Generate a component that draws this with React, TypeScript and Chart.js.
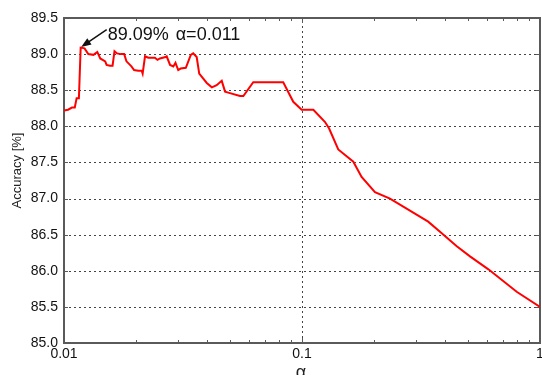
import React, { useEffect, useRef } from 'react';
import { Chart, registerables } from 'chart.js';

Chart.register(...registerables);

const alphas: number[] = [
  0.0100, 0.0104, 0.0108, 0.0111, 0.0113, 0.01155, 0.01175, 0.0122, 0.01265, 0.0133,
  0.0138, 0.0142, 0.0149, 0.0151, 0.0156, 0.0160, 0.0163, 0.0167, 0.0173, 0.0179,
  0.0183, 0.0192, 0.0197, 0.0205, 0.0212, 0.0214, 0.0219, 0.0226, 0.0241, 0.0247,
  0.0253, 0.0267, 0.0270, 0.0279, 0.0288, 0.0294, 0.0302, 0.0309, 0.0325, 0.0341,
  0.0349, 0.0361, 0.0370, 0.0398, 0.0418, 0.0438, 0.0460, 0.0475, 0.0498, 0.0549,
  0.0567, 0.0624, 0.0834, 0.0919, 0.0997, 0.1116, 0.125, 0.130, 0.142, 0.1643,
  0.178, 0.2026, 0.2343, 0.339, 0.380, 0.447, 0.508, 0.607, 0.798, 1.0,
];

const accuracy: number[] = [
  88.22, 88.23, 88.26, 88.26, 88.39, 88.39, 89.09, 89.08, 89.00, 88.99,
  89.03, 88.94, 88.90, 88.85, 88.84, 88.84, 89.04, 89.01, 89.00, 89.00,
  88.90, 88.83, 88.78, 88.77, 88.77, 88.73, 88.97, 88.95, 88.95, 88.92,
  88.94, 88.96, 88.97, 88.85, 88.83, 88.88, 88.78, 88.80, 88.81, 88.99,
  89.01, 88.96, 88.73, 88.60, 88.54, 88.57, 88.63, 88.48, 88.46, 88.42,
  88.42, 88.61, 88.61, 88.34, 88.23, 88.23, 88.06, 87.97, 87.68, 87.51,
  87.30, 87.09, 87.00, 86.68, 86.54, 86.34, 86.20, 86.02, 85.71, 85.50,
];

const xTickValues: number[] = [0.01, 0.1, 1];
const xMinorTicks: number[] = [
  0.02, 0.03, 0.04, 0.05, 0.06, 0.07, 0.08, 0.09,
  0.2, 0.3, 0.4, 0.5, 0.6, 0.7, 0.8, 0.9,
];
const yMin = 85.0;
const yMax = 89.5;
const yStep = 0.5;
const xTitle = 'α';
const yTitle = 'Accuracy [%]';
const peakText = '89.09%';
const peakAlphaText = 'α=0.011';

const FONT = '"Liberation Sans", Arial, Helvetica, sans-serif';

const framePlugin = {
  id: 'frameTicks',
  beforeDatasetsDraw(chart: any) {
    const { ctx, chartArea, scales } = chart;
    const { left, right, top, bottom } = chartArea;
    const x = scales.x;
    const y = scales.y;
    ctx.save();
    const seg = (x1: number, y1: number, x2: number, y2: number) => {
      ctx.beginPath();
      ctx.moveTo(x1, y1);
      ctx.lineTo(x2, y2);
      ctx.stroke();
    };
    // dotted grid
    ctx.strokeStyle = '#444';
    ctx.lineWidth = 1;
    ctx.setLineDash([2, 3]);
    for (const v of xTickValues) {
      const px = Math.round(x.getPixelForValue(v)) + 0.5;
      seg(px, bottom, px, top);
    }
    for (const t of y.ticks) {
      const py = Math.round(y.getPixelForValue(t.value)) + 0.5;
      seg(left, py, right, py);
    }
    ctx.setLineDash([]);
    ctx.strokeStyle = '#5a5a5a';
    for (const v of xMinorTicks) {
      const px = Math.round(x.getPixelForValue(v)) + 0.5;
      seg(px, bottom, px, bottom - 3);
      seg(px, top, px, top + 3);
    }
    for (const v of xTickValues) {
      const px = Math.round(x.getPixelForValue(v)) + 0.5;
      seg(px, bottom, px, bottom - 5);
      seg(px, top, px, top + 5);
    }
    for (const t of y.ticks) {
      const py = Math.round(y.getPixelForValue(t.value)) + 0.5;
      seg(left, py, left + 4, py);
      seg(right, py, right - 4, py);
    }
    ctx.lineWidth = 2;
    ctx.strokeStyle = '#5a5a5a';
    ctx.strokeRect(left, top, right - left, bottom - top);
    ctx.restore();
  },
  afterDraw(chart: any) {
    const { ctx, chartArea, scales } = chart;
    const x = scales.x;
    const y = scales.y;
    let pi = 0;
    accuracy.forEach((v, i) => {
      if (v > accuracy[pi]) pi = i;
    });
    const px = x.getPixelForValue(alphas[pi]);
    const py = y.getPixelForValue(accuracy[pi]);
    ctx.save();
    ctx.fillStyle = '#111';
    ctx.font = `18px ${FONT}`;
    ctx.textBaseline = 'alphabetic';
    ctx.textAlign = 'left';
    const tx = px + 27;
    const ty = py - 8;
    ctx.fillText(peakText, tx, ty);
    const w1 = ctx.measureText(peakText).width;
    ctx.fillText(peakAlphaText, tx + w1 + 7, ty);
    // arrow
    const sx = px + 26;
    const sy = py - 18;
    const ex = px + 0.5;
    const ey = py - 0.5;
    const ang = Math.atan2(ey - sy, ex - sx);
    ctx.strokeStyle = '#111';
    ctx.lineWidth = 1.5;
    ctx.beginPath();
    ctx.moveTo(sx, sy);
    ctx.lineTo(ex - 6 * Math.cos(ang), ey - 6 * Math.sin(ang));
    ctx.stroke();
    ctx.beginPath();
    ctx.moveTo(ex, ey);
    ctx.lineTo(ex - 10 * Math.cos(ang) + 3.8 * Math.sin(ang), ey - 10 * Math.sin(ang) - 3.8 * Math.cos(ang));
    ctx.lineTo(ex - 10 * Math.cos(ang) - 3.8 * Math.sin(ang), ey - 10 * Math.sin(ang) + 3.8 * Math.cos(ang));
    ctx.closePath();
    ctx.fill();
    // axis titles
    ctx.fillStyle = '#222';
    ctx.font = `13px ${FONT}`;
    ctx.textAlign = 'center';
    ctx.textBaseline = 'middle';
    ctx.save();
    ctx.translate(17, (chartArea.top + chartArea.bottom) / 2 - 10);
    ctx.rotate(-Math.PI / 2);
    ctx.fillText(yTitle, 0, 0);
    ctx.restore();
    ctx.font = `18px ${FONT}`;
    ctx.textBaseline = 'alphabetic';
    ctx.fillText(xTitle, (chartArea.left + chartArea.right) / 2 - 1, 378);
    ctx.restore();
  },
};

export default function App() {
  const ref = useRef<HTMLCanvasElement | null>(null);
  useEffect(() => {
    if (!ref.current) return;
    const data = alphas.map((a, i) => ({ x: a, y: accuracy[i] }));
    const chart = new Chart(ref.current, {
      type: 'line',
      data: {
        datasets: [
          {
            data,
            borderColor: '#ff0000',
            borderWidth: 2,
            pointRadius: 0,
            tension: 0,
            fill: false,
          },
        ],
      },
      options: {
        animation: false,
        responsive: false,
        maintainAspectRatio: false,
        layout: { padding: { top: 18, right: 2, left: 0, bottom: 0 } },
        plugins: {
          legend: { display: false },
          tooltip: { enabled: false },
          title: { display: false },
        },
        scales: {
          x: {
            type: 'logarithmic',
            min: 0.01,
            max: 1,
            afterBuildTicks: (scale: any) => {
              scale.ticks = xTickValues.map((v) => ({ value: v }));
            },
            afterFit: (scale: any) => {
              scale.height = 32;
              scale.paddingLeft = 0;
              scale.paddingRight = 0;
            },
            ticks: {
              autoSkip: false,
              maxRotation: 0,
              padding: 3,
              color: '#111',
              font: { family: FONT, size: 14 },
              callback: (v: any) => String(v),
            },
            grid: { display: false, drawTicks: false },
            border: { display: false },
          },
          y: {
            type: 'linear',
            min: yMin,
            max: yMax,
            afterFit: (scale: any) => {
              scale.width = 64;
              scale.paddingTop = 0;
              scale.paddingBottom = 0;
            },
            ticks: {
              stepSize: yStep,
              padding: 6,
              color: '#111',
              font: { family: FONT, size: 14 },
              callback: (v: any) => Number(v).toFixed(1),
            },
            grid: { display: false, drawTicks: false },
            border: { display: false },
          },
        },
      },
      plugins: [framePlugin],
    });
    return () => chart.destroy();
  }, []);
  return (
    <div style={{ position: 'absolute', left: 0, top: 0, width: 542, height: 375, background: '#fff' }}>
      <canvas ref={ref} width={542} height={375} style={{ display: 'block', width: 542, height: 375 }} />
    </div>
  );
}
